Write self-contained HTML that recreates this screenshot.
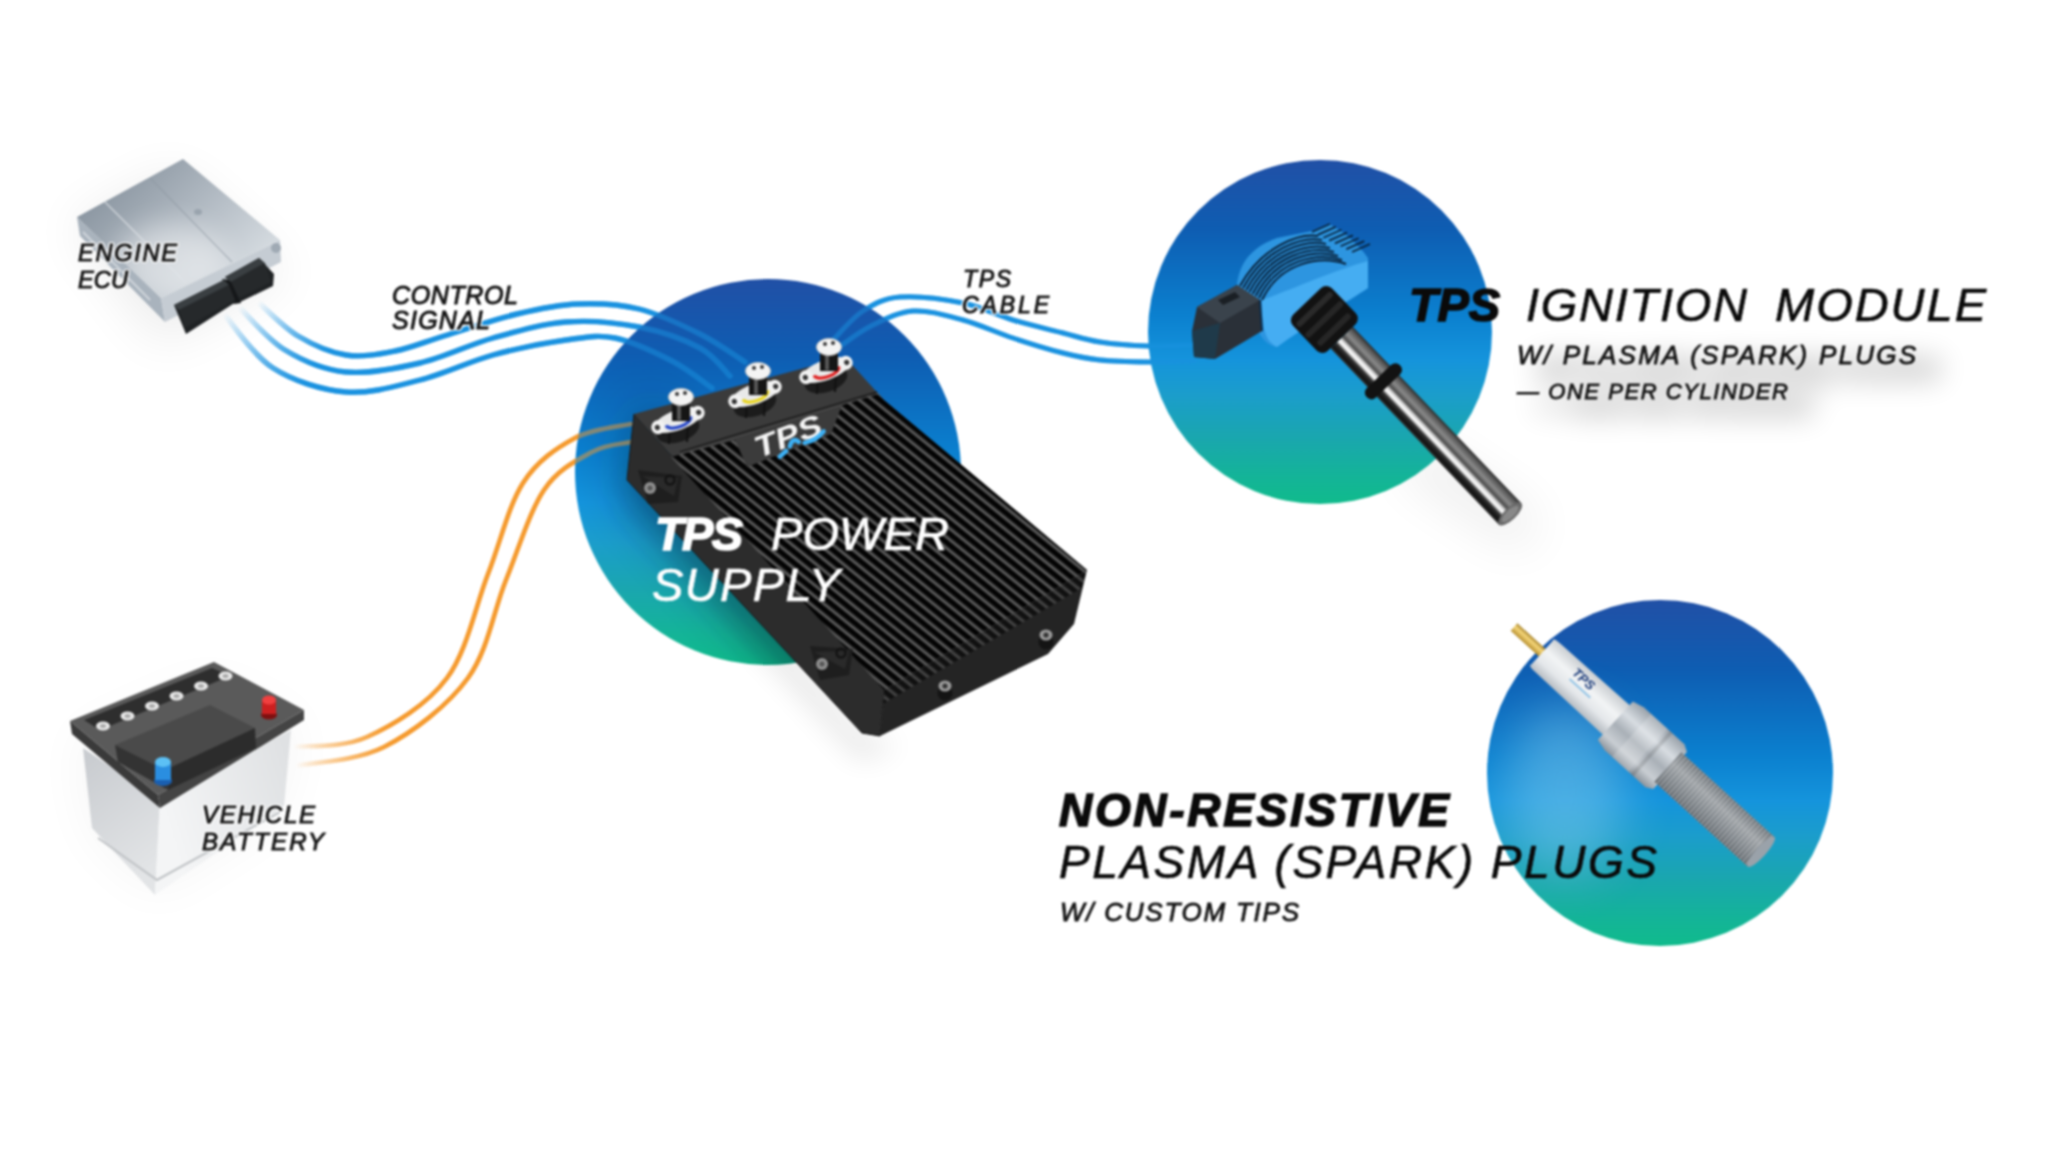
<!DOCTYPE html>
<html><head><meta charset="utf-8">
<style>
html,body{margin:0;padding:0;background:#fff;}
body{width:2048px;height:1152px;overflow:hidden;position:relative;}
svg{position:absolute;left:0;top:0;}
#wrap{position:absolute;left:0;top:0;width:2048px;height:1152px;filter:blur(0.8px);}
.t{font-family:"Liberation Sans",sans-serif;font-style:italic;}
</style></head>
<body>
<div id="wrap">
<svg width="2048" height="1152" viewBox="0 0 2048 1152">

<defs>
  <linearGradient id="cg" x1="0" y1="0" x2="0" y2="1">
    <stop offset="0" stop-color="#2150a6"/>
    <stop offset="0.2" stop-color="#0e5db2"/>
    <stop offset="0.45" stop-color="#0b80cf"/>
    <stop offset="0.58" stop-color="#1594dc"/>
    <stop offset="0.68" stop-color="#1b9dcc"/>
    <stop offset="0.8" stop-color="#1aa6b0"/>
    <stop offset="0.92" stop-color="#14b498"/>
    <stop offset="1" stop-color="#10bb8c"/>
  </linearGradient>
  <radialGradient id="cglow" cx="0.22" cy="0.55" r="0.35">
    <stop offset="0" stop-color="#ffffff" stop-opacity="0.10"/>
    <stop offset="1" stop-color="#ffffff" stop-opacity="0"/>
  </radialGradient>
  <linearGradient id="bfade0" gradientUnits="userSpaceOnUse" x1="258" y1="302" x2="330" y2="352">
    <stop offset="0" stop-color="#1a92e0" stop-opacity="0"/><stop offset="1" stop-color="#1a92e0"/></linearGradient>
  <linearGradient id="bfade1" gradientUnits="userSpaceOnUse" x1="239" y1="307" x2="315" y2="365">
    <stop offset="0" stop-color="#1a92e0" stop-opacity="0"/><stop offset="1" stop-color="#1a92e0"/></linearGradient>
  <linearGradient id="bfade2" gradientUnits="userSpaceOnUse" x1="224" y1="314" x2="305" y2="383">
    <stop offset="0" stop-color="#1a92e0" stop-opacity="0"/><stop offset="1" stop-color="#1a92e0"/></linearGradient>
  <linearGradient id="ofade" gradientUnits="userSpaceOnUse" x1="294" y1="750" x2="390" y2="740">
    <stop offset="0" stop-color="#f59a2e" stop-opacity="0"/><stop offset="1" stop-color="#f59a2e"/></linearGradient>
  <linearGradient id="ecuTop" gradientUnits="userSpaceOnUse" x1="120" y1="180" x2="230" y2="290">
    <stop offset="0" stop-color="#8e99a4"/><stop offset="0.6" stop-color="#b9c1c9"/><stop offset="1" stop-color="#d5dbe0"/></linearGradient>
  <linearGradient id="batR" gradientUnits="userSpaceOnUse" x1="160" y1="800" x2="290" y2="760">
    <stop offset="0" stop-color="#f4f5f6"/><stop offset="1" stop-color="#dfe1e3"/></linearGradient>
  <linearGradient id="batL" gradientUnits="userSpaceOnUse" x1="83" y1="760" x2="160" y2="860">
    <stop offset="0" stop-color="#c9ccd0"/><stop offset="1" stop-color="#e2e4e6"/></linearGradient>
  <linearGradient id="rodG" x1="0" y1="0" x2="0" y2="1">
    <stop offset="0" stop-color="#2a2a2a"/><stop offset="0.1" stop-color="#555"/><stop offset="0.3" stop-color="#8a8a8a"/>
    <stop offset="0.45" stop-color="#4a4a4a"/><stop offset="0.55" stop-color="#dcdcdc"/><stop offset="0.65" stop-color="#fff"/>
    <stop offset="0.75" stop-color="#333"/><stop offset="0.9" stop-color="#111"/><stop offset="1" stop-color="#333"/></linearGradient>
  <linearGradient id="insG" x1="0" y1="0" x2="0" y2="1">
    <stop offset="0" stop-color="#c8ccd0"/><stop offset="0.4" stop-color="#f2f4f5"/><stop offset="0.7" stop-color="#e4e7ea"/><stop offset="1" stop-color="#b4bac0"/></linearGradient>
  <linearGradient id="nutG" x1="0" y1="0" x2="0" y2="1">
    <stop offset="0" stop-color="#9aa2aa"/><stop offset="0.3" stop-color="#d8dde2"/><stop offset="0.55" stop-color="#a9b0b7"/><stop offset="0.8" stop-color="#c9ced3"/><stop offset="1" stop-color="#8c949c"/></linearGradient>
  <linearGradient id="thrG" x1="0" y1="0" x2="0" y2="1">
    <stop offset="0" stop-color="#8a9299"/><stop offset="0.35" stop-color="#c5cbd0"/><stop offset="0.7" stop-color="#9ea6ad"/><stop offset="1" stop-color="#7d858c"/></linearGradient>
  <linearGradient id="goldG" x1="0" y1="0" x2="0" y2="1">
    <stop offset="0" stop-color="#a8842c"/><stop offset="0.4" stop-color="#f5d67a"/><stop offset="1" stop-color="#b8902f"/></linearGradient>
  <pattern id="fins" patternUnits="userSpaceOnUse" width="8.6" height="40" patternTransform="rotate(-51)">
    <rect width="8.6" height="40" fill="#030303"/>
    <rect x="4.8" width="3.2" height="40" fill="#545454"/>
    <rect x="4.8" width="1" height="40" fill="#5a5a5a"/>
  </pattern>
  <pattern id="threads" patternUnits="userSpaceOnUse" width="4" height="60">
    <rect width="4" height="60" fill="#000" opacity="0.22"/>
    <rect x="2" width="2" height="60" fill="#fff" opacity="0.25"/>
  </pattern>
  <filter id="b1" x="-50%" y="-50%" width="200%" height="200%"><feGaussianBlur stdDeviation="1"/></filter>
  <filter id="b2" x="-50%" y="-50%" width="200%" height="200%"><feGaussianBlur stdDeviation="2"/></filter>
  <filter id="b6" x="-50%" y="-50%" width="200%" height="200%"><feGaussianBlur stdDeviation="6"/></filter>
  <filter id="b14" x="-50%" y="-50%" width="200%" height="200%"><feGaussianBlur stdDeviation="14"/></filter>
  <filter id="b25" x="-80%" y="-80%" width="260%" height="260%"><feGaussianBlur stdDeviation="25"/></filter>
</defs>

<g fill="#000">
<polygon points="175,170 70,225 160,345 290,275" opacity="0.07" filter="url(#b25)"/>
<polygon points="75,740 210,680 300,725 280,815 155,895 90,835" opacity="0.035" filter="url(#b25)"/>
<g class="t" font-weight="bold" opacity="0.18" filter="url(#b14)" transform="translate(22,14)"><text x="1517" y="364" font-size="26" textLength="399" lengthAdjust="spacing" stroke="#000" stroke-width="8">W/ PLASMA (SPARK) PLUGS</text><text x="1517" y="399" font-size="22" textLength="271" lengthAdjust="spacing" stroke="#000" stroke-width="8">— ONE PER CYLINDER</text></g>
<polygon points="1420,440 1540,520 1520,550 1400,470" opacity="0.08" filter="url(#b25)"/>
</g>
<g fill="none" stroke-linecap="round" opacity="1">
<path d="M258.0,302.0 C264.7,307.7 283.3,327.2 298.0,336.0 C312.7,344.8 329.8,352.5 346.0,355.0 C362.2,357.5 378.7,354.2 395.0,351.0 C411.3,347.8 423.7,342.2 444.0,336.0 C464.3,329.8 494.7,319.3 517.0,314.0 C539.3,308.7 557.7,304.8 578.0,304.0 C598.3,303.2 618.7,304.0 639.0,309.0 C659.3,314.0 682.3,325.2 700.0,334.0 C717.7,342.8 737.5,357.3 745.0,362.0" stroke="url(#bfade0)" stroke-width="5.4"/>
<path d="M239.0,307.0 C246.7,314.2 267.2,339.2 285.0,350.0 C302.8,360.8 323.5,369.8 346.0,372.0 C368.5,374.2 395.5,368.7 420.0,363.0 C444.5,357.3 468.7,344.8 493.0,338.0 C517.3,331.2 541.7,323.8 566.0,322.0 C590.3,320.2 616.7,322.7 639.0,327.0 C661.3,331.3 684.8,339.8 700.0,348.0 C715.2,356.2 725.0,371.3 730.0,376.0" stroke="url(#bfade1)" stroke-width="5.4"/>
<path d="M224.0,314.0 C232.2,323.0 252.7,355.0 273.0,368.0 C293.3,381.0 321.5,390.0 346.0,392.0 C370.5,394.0 395.5,386.2 420.0,380.0 C444.5,373.8 468.7,361.7 493.0,355.0 C517.3,348.3 545.7,342.8 566.0,340.0 C586.3,337.2 597.3,334.5 615.0,338.0 C632.7,341.5 655.8,352.7 672.0,361.0 C688.2,369.3 705.3,383.5 712.0,388.0" stroke="url(#bfade2)" stroke-width="5.4"/>
<path d="M834.0,339.0 C838.8,334.3 852.0,318.0 863.0,311.0 C874.0,304.0 883.3,298.3 900.0,297.0 C916.7,295.7 944.2,299.2 963.0,303.0 C981.8,306.8 996.3,315.0 1013.0,320.0 C1029.7,325.0 1048.5,329.3 1063.0,333.0 C1077.5,336.7 1085.8,339.8 1100.0,342.0 C1114.2,344.2 1132.2,345.5 1148.0,346.0 C1163.8,346.5 1187.2,345.2 1195.0,345.0" stroke="#1a92e0" stroke-width="5"/>
<path d="M842.0,345.0 C846.8,341.8 859.2,331.7 871.0,326.0 C882.8,320.3 897.7,312.0 913.0,311.0 C928.3,310.0 946.3,315.5 963.0,320.0 C979.7,324.5 996.3,332.5 1013.0,338.0 C1029.7,343.5 1048.5,349.3 1063.0,353.0 C1077.5,356.7 1085.8,358.5 1100.0,360.0 C1114.2,361.5 1132.2,361.8 1148.0,362.0 C1163.8,362.2 1187.2,361.2 1195.0,361.0" stroke="#1a92e0" stroke-width="5"/>
<path d="M294.0,747.0 C306.2,745.3 341.5,748.5 367.0,737.0 C392.5,725.5 426.8,705.2 447.0,678.0 C467.2,650.8 475.3,606.5 488.0,574.0 C500.7,541.5 508.5,505.7 523.0,483.0 C537.5,460.3 557.0,447.8 575.0,438.0 C593.0,428.2 621.7,426.3 631.0,424.0" stroke="url(#ofade)" stroke-width="4.6"/>
<path d="M294.0,766.0 C309.0,762.8 355.0,761.7 384.0,747.0 C413.0,732.3 447.7,705.8 468.0,678.0 C488.3,650.2 493.3,611.3 506.0,580.0 C518.7,548.7 529.7,511.3 544.0,490.0 C558.3,468.7 577.5,460.0 592.0,452.0 C606.5,444.0 624.5,443.7 631.0,442.0" stroke="url(#ofade)" stroke-width="4.6"/>
</g>
<circle cx="768" cy="472" r="193" fill="url(#cg)"/>
<circle cx="1320" cy="332" r="172" fill="url(#cg)"/>
<circle cx="1660" cy="773" r="173" fill="url(#cg)"/>
<clipPath id="psclip"><circle cx="768" cy="472" r="193"/></clipPath>
<g clip-path="url(#psclip)"><polygon points="645,400 625,485 858,742 905,745 884,690" fill="#02283a" opacity="0.6" filter="url(#b25)"/></g>
<polygon points="640,470 862,736 900,745 860,760 620,500" fill="#000" opacity="0.10" filter="url(#b14)"/>
<clipPath id="spclip"><circle cx="1660" cy="773" r="173"/></clipPath>
<g clip-path="url(#spclip)"><ellipse cx="1565" cy="790" rx="60" ry="85" fill="#9ad8f2" opacity="0.4" filter="url(#b25)"/></g>
<g fill="none" stroke-linecap="round" opacity="0.5">
<path d="M258.0,302.0 C264.7,307.7 283.3,327.2 298.0,336.0 C312.7,344.8 329.8,352.5 346.0,355.0 C362.2,357.5 378.7,354.2 395.0,351.0 C411.3,347.8 423.7,342.2 444.0,336.0 C464.3,329.8 494.7,319.3 517.0,314.0 C539.3,308.7 557.7,304.8 578.0,304.0 C598.3,303.2 618.7,304.0 639.0,309.0 C659.3,314.0 682.3,325.2 700.0,334.0 C717.7,342.8 737.5,357.3 745.0,362.0" stroke="url(#bfade0)" stroke-width="5.4"/>
<path d="M239.0,307.0 C246.7,314.2 267.2,339.2 285.0,350.0 C302.8,360.8 323.5,369.8 346.0,372.0 C368.5,374.2 395.5,368.7 420.0,363.0 C444.5,357.3 468.7,344.8 493.0,338.0 C517.3,331.2 541.7,323.8 566.0,322.0 C590.3,320.2 616.7,322.7 639.0,327.0 C661.3,331.3 684.8,339.8 700.0,348.0 C715.2,356.2 725.0,371.3 730.0,376.0" stroke="url(#bfade1)" stroke-width="5.4"/>
<path d="M224.0,314.0 C232.2,323.0 252.7,355.0 273.0,368.0 C293.3,381.0 321.5,390.0 346.0,392.0 C370.5,394.0 395.5,386.2 420.0,380.0 C444.5,373.8 468.7,361.7 493.0,355.0 C517.3,348.3 545.7,342.8 566.0,340.0 C586.3,337.2 597.3,334.5 615.0,338.0 C632.7,341.5 655.8,352.7 672.0,361.0 C688.2,369.3 705.3,383.5 712.0,388.0" stroke="url(#bfade2)" stroke-width="5.4"/>
<path d="M834.0,339.0 C838.8,334.3 852.0,318.0 863.0,311.0 C874.0,304.0 883.3,298.3 900.0,297.0 C916.7,295.7 944.2,299.2 963.0,303.0 C981.8,306.8 996.3,315.0 1013.0,320.0 C1029.7,325.0 1048.5,329.3 1063.0,333.0 C1077.5,336.7 1085.8,339.8 1100.0,342.0 C1114.2,344.2 1132.2,345.5 1148.0,346.0 C1163.8,346.5 1187.2,345.2 1195.0,345.0" stroke="#1a92e0" stroke-width="5"/>
<path d="M842.0,345.0 C846.8,341.8 859.2,331.7 871.0,326.0 C882.8,320.3 897.7,312.0 913.0,311.0 C928.3,310.0 946.3,315.5 963.0,320.0 C979.7,324.5 996.3,332.5 1013.0,338.0 C1029.7,343.5 1048.5,349.3 1063.0,353.0 C1077.5,356.7 1085.8,358.5 1100.0,360.0 C1114.2,361.5 1132.2,361.8 1148.0,362.0 C1163.8,362.2 1187.2,361.2 1195.0,361.0" stroke="#1a92e0" stroke-width="5"/>
<path d="M294.0,747.0 C306.2,745.3 341.5,748.5 367.0,737.0 C392.5,725.5 426.8,705.2 447.0,678.0 C467.2,650.8 475.3,606.5 488.0,574.0 C500.7,541.5 508.5,505.7 523.0,483.0 C537.5,460.3 557.0,447.8 575.0,438.0 C593.0,428.2 621.7,426.3 631.0,424.0" stroke="url(#ofade)" stroke-width="4.6"/>
<path d="M294.0,766.0 C309.0,762.8 355.0,761.7 384.0,747.0 C413.0,732.3 447.7,705.8 468.0,678.0 C488.3,650.2 493.3,611.3 506.0,580.0 C518.7,548.7 529.7,511.3 544.0,490.0 C558.3,468.7 577.5,460.0 592.0,452.0 C606.5,444.0 624.5,443.7 631.0,442.0" stroke="url(#ofade)" stroke-width="4.6"/>
</g>
<g>
<polygon points="634.0,414.0 884.0,690.0 880.0,736.0 862.0,733.0 627.0,480.0" fill="#2c2c2c" stroke="#1a1a1a" stroke-width="1"/>
<polygon points="884.0,690.0 1087.0,570.0 1074.0,624.0 1048.0,654.0 880.0,736.0" fill="#242424"/>
<clipPath id="ffclip"><polygon points="884.0,690.0 1087.0,570.0 1082.0,588.0 883.0,704.0"/></clipPath>
<polygon points="884.0,690.0 1087.0,570.0 1082.0,588.0 883.0,704.0" fill="url(#fins)" opacity="0.6" clip-path="url(#ffclip)"/>
<polygon points="634.0,414.0 845.0,357.0 884.0,400.0 958.0,462.0 1087.0,570.0 884.0,690.0" fill="#3b3b3b"/>
<polygon points="671.0,457.0 735.0,440.0 747.0,467.0 831.0,434.0 842.0,405.0 877.0,392.0 884.0,400.0 958.0,462.0 1087.0,570.0 884.0,690.0" fill="url(#fins)"/>
<line x1="680.0" y1="452.0" x2="877.0" y2="392.0" stroke="#222" stroke-width="2.2"/>
<line x1="680.0" y1="454.0" x2="877.0" y2="394.0" stroke="#555" stroke-width="1"/>
<polygon points="638.0,470.0 682.0,476.0 678.0,502.0 648.0,504.0" fill="#1e1e1e"/>
<polygon points="642.0,476.0 678.0,478.0 674.0,496.0" fill="#2a2a2a"/>
<circle cx="650" cy="488" r="6" fill="#8e8e8e"/><circle cx="650" cy="488" r="2.5" fill="#555"/>
<circle cx="670" cy="480" r="4.5" fill="none" stroke="#111" stroke-width="2.2"/>
<polygon points="810.0,646.0 853.0,649.0 849.0,675.0 820.0,680.0" fill="#1e1e1e"/>
<polygon points="814.0,652.0 849.0,651.0 845.0,669.0" fill="#2a2a2a"/>
<circle cx="822" cy="664" r="6" fill="#8e8e8e"/><circle cx="822" cy="664" r="2.5" fill="#555"/>
<circle cx="841" cy="653" r="4.5" fill="none" stroke="#111" stroke-width="2.2"/>
<circle cx="945" cy="693" r="7.5" fill="#141414"/>
<ellipse cx="945" cy="686" rx="6.5" ry="5.5" fill="#9a9a9a"/>
<circle cx="945" cy="686" r="2.6" fill="#333"/>
<circle cx="1046" cy="642" r="7.5" fill="#141414"/>
<ellipse cx="1046" cy="635" rx="6.5" ry="5.5" fill="#9a9a9a"/>
<circle cx="1046" cy="635" r="2.6" fill="#333"/>
<ellipse cx="678" cy="430" rx="22" ry="12" fill="#1c1c1c" transform="rotate(-18 678 430)"/>
<line x1="670" y1="424" x2="669" y2="444" stroke="#111" stroke-width="2"/>
<line x1="688" y1="422" x2="687" y2="442" stroke="#111" stroke-width="2"/>
<g transform="rotate(-20 678 420)">
<ellipse cx="678" cy="420" rx="26" ry="10" fill="#e9e9e9"/>
<circle cx="657" cy="420" r="7" fill="#f2f2f2"/><circle cx="699" cy="420" r="7" fill="#f2f2f2"/>
<circle cx="656" cy="420" r="2.6" fill="#333"/><circle cx="700" cy="420" r="2.6" fill="#333"/>
<path d="M665,421 a13,6 0 0 0 26,0" fill="none" stroke="#2848c8" stroke-width="3.2"/>
</g>
<rect x="672" y="399" width="18" height="22" fill="#151515"/>
<rect x="677" y="400" width="4" height="20" fill="#555"/>
<ellipse cx="681" cy="397" rx="12.5" ry="8.5" fill="#f4f4f4" stroke="#bbb" stroke-width="1"/>
<circle cx="677" cy="394" r="2" fill="#333"/><circle cx="685" cy="393" r="2" fill="#333"/>
<ellipse cx="755" cy="404" rx="22" ry="12" fill="#1c1c1c" transform="rotate(-18 755 404)"/>
<line x1="747" y1="398" x2="746" y2="418" stroke="#111" stroke-width="2"/>
<line x1="765" y1="396" x2="764" y2="416" stroke="#111" stroke-width="2"/>
<g transform="rotate(-20 755 394)">
<ellipse cx="755" cy="394" rx="26" ry="10" fill="#e9e9e9"/>
<circle cx="734" cy="394" r="7" fill="#f2f2f2"/><circle cx="776" cy="394" r="7" fill="#f2f2f2"/>
<circle cx="733" cy="394" r="2.6" fill="#333"/><circle cx="777" cy="394" r="2.6" fill="#333"/>
<path d="M742,395 a13,6 0 0 0 26,0" fill="none" stroke="#e8d420" stroke-width="3.2"/>
</g>
<rect x="749" y="373" width="18" height="22" fill="#151515"/>
<rect x="754" y="374" width="4" height="20" fill="#555"/>
<ellipse cx="758" cy="371" rx="12.5" ry="8.5" fill="#f4f4f4" stroke="#bbb" stroke-width="1"/>
<circle cx="754" cy="368" r="2" fill="#333"/><circle cx="762" cy="367" r="2" fill="#333"/>
<ellipse cx="826" cy="380" rx="22" ry="12" fill="#1c1c1c" transform="rotate(-18 826 380)"/>
<line x1="818" y1="374" x2="817" y2="394" stroke="#111" stroke-width="2"/>
<line x1="836" y1="372" x2="835" y2="392" stroke="#111" stroke-width="2"/>
<g transform="rotate(-20 826 370)">
<ellipse cx="826" cy="370" rx="26" ry="10" fill="#e9e9e9"/>
<circle cx="805" cy="370" r="7" fill="#f2f2f2"/><circle cx="847" cy="370" r="7" fill="#f2f2f2"/>
<circle cx="804" cy="370" r="2.6" fill="#333"/><circle cx="848" cy="370" r="2.6" fill="#333"/>
<path d="M813,371 a13,6 0 0 0 26,0" fill="none" stroke="#e02020" stroke-width="3.2"/>
</g>
<rect x="820" y="349" width="18" height="22" fill="#151515"/>
<rect x="825" y="350" width="4" height="20" fill="#555"/>
<ellipse cx="829" cy="347" rx="12.5" ry="8.5" fill="#f4f4f4" stroke="#bbb" stroke-width="1"/>
<circle cx="825" cy="344" r="2" fill="#333"/><circle cx="833" cy="343" r="2" fill="#333"/>
<g transform="translate(789,436) rotate(-21)"><text x="-36" y="10" font-family="Liberation Sans" font-weight="bold" font-style="italic" font-size="30" fill="#f4f4f4" textLength="70" lengthAdjust="spacingAndGlyphs">TPS</text><path d="M-16,16 l8,-3 M-3,10 q6,-8 10,-1 M12,12 q12,2 22,-4" stroke="#3cb0f4" stroke-width="4.5" fill="none" stroke-linecap="round"/></g>
</g>
<g>
<polygon points="77.0,217.0 161.0,298.0 165.0,322.0 80.0,236.0" fill="#a9b3bd"/>
<polygon points="161.0,298.0 280.0,240.0 281.0,262.0 165.0,322.0" fill="#c5ccd3"/>
<polygon points="183.0,159.0 77.0,217.0 161.0,298.0 280.0,240.0" fill="url(#ecuTop)"/>
<clipPath id="ecuclip"><polygon points="183.0,159.0 77.0,217.0 161.0,298.0 280.0,240.0"/></clipPath>
<g clip-path="url(#ecuclip)"><ellipse cx="172" cy="262" rx="55" ry="38" fill="#fff" opacity="0.45" filter="url(#b14)"/></g>
<line x1="105" y1="202" x2="186" y2="283" stroke="#e0e4e8" stroke-width="1.5" opacity="0.7"/>
<line x1="150" y1="178" x2="232" y2="262" stroke="#8d97a1" stroke-width="1.2" opacity="0.6"/>
<line x1="150" y1="300" x2="83" y2="232" stroke="#d8dde2" stroke-width="2" opacity="0.8"/>
<ellipse cx="198" cy="212" rx="4" ry="3" fill="#9aa4ae"/>
<circle cx="276" cy="248" r="5" fill="#a0aab4"/>
<polygon points="222,279 232,280 241,303 234,304" fill="#151719"/>
<polygon points="174,305 224,280 236,302 186,334" fill="#1f2224"/>
<polygon points="174,305 224,280 229,285 179,310" fill="#3a3f42"/>
<polygon points="179,310 229,285 235,300 185,328" fill="#26292b"/>
<polygon points="225,277 259,258 274,274 273,286 240,302 231,282" fill="#1f2224"/>
<polygon points="225,277 259,258 265,263 231,282" fill="#3a3f42"/>
<polygon points="231,282 265,263 271,282 239,298" fill="#26292b"/>
</g>
<g>
<polygon points="83.0,748.0 160.0,800.0 155.0,895.0 92.0,828.0" fill="url(#batL)"/>
<polygon points="160.0,800.0 291.0,730.0 284.0,806.0 155.0,895.0" fill="url(#batR)"/>
<polyline points="98,838 157,880 280,812" fill="none" stroke="#c0c3c6" stroke-width="2"/>
<polygon points="70.0,721.0 158.0,795.0 160.0,808.0 72.0,734.0" fill="#3a3a3a"/>
<polygon points="158.0,795.0 304.0,710.0 304.0,720.0 160.0,808.0" fill="#444"/>
<polygon points="70.0,721.0 214.0,662.0 304.0,710.0 158.0,795.0" fill="#5a5a5a"/>
<polygon points="84,720 212,668 230,676 100,730" fill="#2e2e2e"/>
<ellipse cx="103.0" cy="726.0" rx="7" ry="4.5" fill="#e8e8e8"/>
<ellipse cx="103.0" cy="726.0" rx="3" ry="2" fill="#aaa"/>
<ellipse cx="127.5" cy="716.0" rx="7" ry="4.5" fill="#e8e8e8"/>
<ellipse cx="127.5" cy="716.0" rx="3" ry="2" fill="#aaa"/>
<ellipse cx="152.0" cy="706.0" rx="7" ry="4.5" fill="#e8e8e8"/>
<ellipse cx="152.0" cy="706.0" rx="3" ry="2" fill="#aaa"/>
<ellipse cx="176.5" cy="696.0" rx="7" ry="4.5" fill="#e8e8e8"/>
<ellipse cx="176.5" cy="696.0" rx="3" ry="2" fill="#aaa"/>
<ellipse cx="201.0" cy="686.0" rx="7" ry="4.5" fill="#e8e8e8"/>
<ellipse cx="201.0" cy="686.0" rx="3" ry="2" fill="#aaa"/>
<ellipse cx="225.5" cy="676.0" rx="7" ry="4.5" fill="#e8e8e8"/>
<ellipse cx="225.5" cy="676.0" rx="3" ry="2" fill="#aaa"/>
<polygon points="115,745 210,705 255,728 165,770" fill="#4a4a4a"/>
<polygon points="165,770 255,728 256,748 168,790" fill="#2c2c2c"/>
<polygon points="115,745 165,770 168,790 118,762" fill="#333"/>
<ellipse cx="163" cy="781" rx="9" ry="5" fill="#1a5fb0"/>
<rect x="155" y="762" width="16" height="18" fill="#2a8ee0"/>
<ellipse cx="163" cy="762" rx="8" ry="5" fill="#5cc0f5"/>
<ellipse cx="269" cy="715" rx="8" ry="4.5" fill="#801010"/>
<rect x="262" y="700" width="14" height="14" fill="#cc2020"/>
<ellipse cx="269" cy="700" rx="7" ry="4.5" fill="#f04040"/>
</g>
<g>
<path d="M1237,284 C1240,262 1252,247 1277,238 L1312,231 L1329,224 C1345,232 1358,244 1368,258 L1368,288 C1350,300 1300,330 1277,347 C1265,345 1258,335 1255,320 Z" fill="#2d95e0"/>
<path d="M1262,300 C1290,290 1335,270 1368,261 L1368,288 C1350,300 1300,330 1277,347 C1266,342 1262,330 1262,300 Z" fill="#45adf2"/>
<path d="M1240.0,286.0 C1262.0,246.0 1300.0,233.0 1318.0,236.0" stroke="#082038" stroke-width="2" fill="none"/>
<path d="M1243.1,288.0 C1264.6,248.3 1302.9,236.1 1322.0,240.0" stroke="#082038" stroke-width="2" fill="none"/>
<path d="M1246.3,290.0 C1267.1,250.6 1305.7,239.3 1326.0,244.0" stroke="#082038" stroke-width="2" fill="none"/>
<path d="M1249.4,292.0 C1269.7,252.9 1308.6,242.4 1330.0,248.0" stroke="#082038" stroke-width="2" fill="none"/>
<path d="M1252.6,294.0 C1272.3,255.1 1311.4,245.6 1334.0,252.0" stroke="#082038" stroke-width="2" fill="none"/>
<path d="M1255.7,296.0 C1274.9,257.4 1314.3,248.7 1338.0,256.0" stroke="#082038" stroke-width="2" fill="none"/>
<path d="M1258.9,298.0 C1277.4,259.7 1317.1,251.9 1342.0,260.0" stroke="#082038" stroke-width="2" fill="none"/>
<path d="M1262.0,300.0 C1280.0,262.0 1320.0,255.0 1346.0,264.0" stroke="#082038" stroke-width="2" fill="none"/>
<line x1="1312.0" y1="232.0" x2="1330.0" y2="224.0" stroke="#082038" stroke-width="1.8"/>
<line x1="1317.7" y1="234.9" x2="1335.7" y2="226.9" stroke="#082038" stroke-width="1.8"/>
<line x1="1323.4" y1="237.7" x2="1341.4" y2="229.7" stroke="#082038" stroke-width="1.8"/>
<line x1="1329.1" y1="240.6" x2="1347.1" y2="232.6" stroke="#082038" stroke-width="1.8"/>
<line x1="1334.9" y1="243.4" x2="1352.9" y2="235.4" stroke="#082038" stroke-width="1.8"/>
<line x1="1340.6" y1="246.3" x2="1358.6" y2="238.3" stroke="#082038" stroke-width="1.8"/>
<line x1="1346.3" y1="249.1" x2="1364.3" y2="241.1" stroke="#082038" stroke-width="1.8"/>
<line x1="1352.0" y1="252.0" x2="1370.0" y2="244.0" stroke="#082038" stroke-width="1.8"/>
<polygon points="1197,307 1237,285 1260,300 1262,331 1215,359 1194,357 1192,331" fill="#2a3038"/>
<polygon points="1197,307 1237,285 1260,300 1220,323" fill="#3a434c"/>
<polygon points="1192,331 1220,323 1215,359 1194,357" fill="#1f3a4a"/>
<polygon points="1218,300 1235,292 1240,297 1223,305" fill="#1a1f24"/>
<line x1="1260" y1="300" x2="1262" y2="331" stroke="#0a2a48" stroke-width="2"/>
<g transform="translate(1343,339) rotate(46.3)">
<rect x="-2" y="-15.5" width="244" height="31" fill="url(#rodG)"/>
<ellipse cx="242" cy="0" rx="6" ry="15.5" fill="#6a6a6a"/>
<ellipse cx="242" cy="0" rx="4" ry="11" fill="#888"/>
<rect x="52" y="-23" width="13" height="46" rx="6" fill="#121212"/>
<rect x="-52" y="-27" width="50" height="54" rx="8" fill="#121212"/>
<rect x="-44" y="-24" width="6" height="48" rx="3" fill="#2a2a2a"/>
<rect x="-30" y="-25" width="6" height="50" rx="3" fill="#262626"/>
<rect x="-16" y="-22" width="6" height="44" rx="3" fill="#262626"/>
</g>
</g>
<g transform="translate(1514,627) rotate(42.3)">
<rect x="0" y="-5" width="42" height="10" fill="url(#goldG)"/>
<path d="M38,-16 C36,-18 40,-19 46,-19 L142,-20 L142,20 L46,19 C40,19 36,18 38,16 Z" fill="url(#insG)"/>
<text x="74" y="-4" font-family="Liberation Sans" font-weight="bold" font-style="italic" font-size="13" fill="#1a3a7a">TPS</text><rect x="76" y="0" width="28" height="2" fill="#5aa8e0" opacity="0.6"/>
<path d="M138,-25 L150,-28 L205,-28 L212,-24 L212,26 L205,30 L150,30 L138,27 Z" fill="url(#nutG)"/>
<rect x="160" y="-28" width="22" height="58" fill="#fff" opacity="0.18"/>
<rect x="185" y="-28" width="4" height="58" fill="#000" opacity="0.12"/>
<rect x="208" y="-20" width="126" height="40" fill="url(#thrG)"/>
<rect x="208" y="-20" width="126" height="40" fill="url(#threads)"/>
<ellipse cx="334" cy="0" rx="5" ry="20" fill="#9aa2aa"/>
</g>
<g class="t" fill="#fff" stroke="#fff" stroke-width="4" stroke-linejoin="round" opacity="0.85">
  <text x="78" y="261" font-size="23.5" textLength="99" lengthAdjust="spacing">ENGINE</text>
  <text x="78" y="288" font-size="23.5" textLength="50" lengthAdjust="spacing">ECU</text>
  <text x="392" y="304" font-size="25" textLength="126" lengthAdjust="spacing">CONTROL</text>
  <text x="392" y="329" font-size="25" textLength="98" lengthAdjust="spacing">SIGNAL</text>
  <text x="963" y="287" font-size="23" textLength="48" lengthAdjust="spacing">TPS</text>
  <text x="962" y="313" font-size="23" textLength="87" lengthAdjust="spacing">CABLE</text>
  <text x="202" y="823" font-size="24" textLength="113" lengthAdjust="spacing">VEHICLE</text>
  <text x="202" y="850" font-size="24" textLength="122" lengthAdjust="spacing">BATTERY</text>
</g>
<g class="t" fill="#161616" stroke="#161616" stroke-width="1.0">
  <text x="78" y="261" font-size="23.5" textLength="99" lengthAdjust="spacing">ENGINE</text>
  <text x="78" y="288" font-size="23.5" textLength="50" lengthAdjust="spacing">ECU</text>
  <text x="392" y="304" font-size="25" textLength="126" lengthAdjust="spacing">CONTROL</text>
  <text x="392" y="329" font-size="25" textLength="98" lengthAdjust="spacing">SIGNAL</text>
  <text x="963" y="287" font-size="23" textLength="48" lengthAdjust="spacing">TPS</text>
  <text x="962" y="313" font-size="23" textLength="87" lengthAdjust="spacing">CABLE</text>
  <text x="202" y="823" font-size="24" textLength="113" lengthAdjust="spacing">VEHICLE</text>
  <text x="202" y="850" font-size="24" textLength="122" lengthAdjust="spacing">BATTERY</text>
</g>
<g class="t" fill="#ffffff" stroke="#ffffff" stroke-width="0.7">
  <text x="655" y="550" font-size="47" font-weight="bold" stroke="#fff" stroke-width="1.6" textLength="88" lengthAdjust="spacing">TPS</text>
  <text x="771" y="550" font-size="47" textLength="178" lengthAdjust="spacing">POWER</text>
  <text x="652" y="601" font-size="47" textLength="188" lengthAdjust="spacing">SUPPLY</text>
</g>
<g class="t" fill="#0a0a0a" stroke="#0a0a0a" stroke-width="0.7">
  <text x="1409" y="321" font-size="47" font-weight="bold" stroke="#0a0a0a" stroke-width="1.6" textLength="91" lengthAdjust="spacing">TPS</text>
  <text x="1526" y="321" font-size="47" textLength="221" lengthAdjust="spacing">IGNITION</text>
  <text x="1775" y="321" font-size="47" textLength="211" lengthAdjust="spacing">MODULE</text>
  <text x="1059" y="826" font-size="46" font-weight="bold" stroke="#0a0a0a" stroke-width="1.6" textLength="390" lengthAdjust="spacing">NON-RESISTIVE</text>
  <text x="1059" y="878" font-size="46" textLength="598" lengthAdjust="spacing">PLASMA (SPARK) PLUGS</text>
</g>
<g class="t" fill="#161616" stroke="#161616" stroke-width="0.9">
  <text x="1517" y="364" font-size="26" textLength="399" lengthAdjust="spacing">W/ PLASMA (SPARK) PLUGS</text>
  <text x="1517" y="399" font-size="22" textLength="271" lengthAdjust="spacing">— ONE PER CYLINDER</text>
  <text x="1060" y="921" font-size="26" textLength="239" lengthAdjust="spacing">W/ CUSTOM TIPS</text>
</g>
</svg>
</div>
</body></html>
